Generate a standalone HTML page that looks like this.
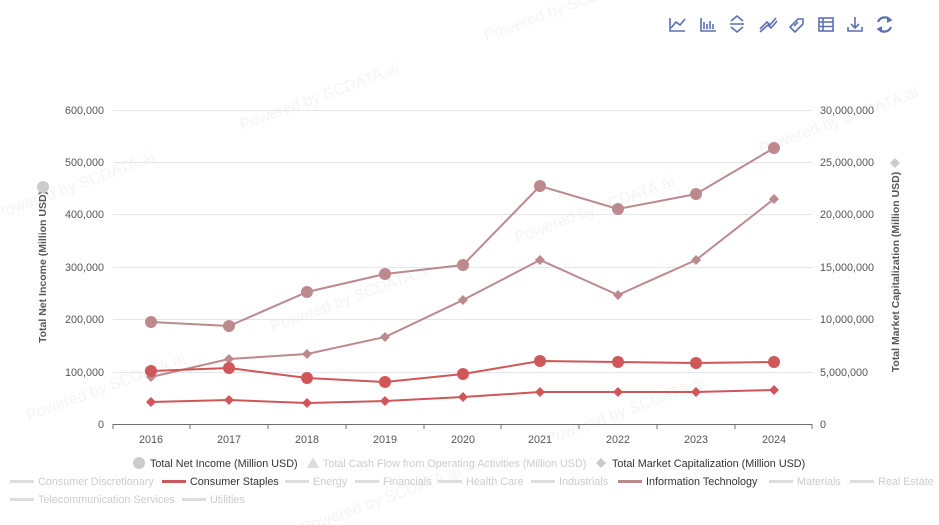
<!DOCTYPE html>
<html><head><meta charset="utf-8"><style>
html,body{margin:0;padding:0;background:#fff;width:939px;height:525px;overflow:hidden;}
svg{display:block;font-family:"Liberation Sans",sans-serif;}
</style></head><body>
<svg width="939" height="525" viewBox="0 0 939 525" xmlns="http://www.w3.org/2000/svg" overflow="hidden">
<g font-size="16" fill="#f6f3f3" transform="rotate(-20 470 260)">
<text x="40" y="60">Powered by SCDATA.ai</text><text x="300" y="60">Powered by SCDATA.ai</text><text x="560" y="60">Powered by SCDATA.ai</text>
<text x="0" y="260">Powered by SCDATA.ai</text><text x="260" y="260">Powered by SCDATA.ai</text><text x="520" y="260">Powered by SCDATA.ai</text><text x="780" y="260">Powered by SCDATA.ai</text>
<text x="220" y="460">Powered by SCDATA.ai</text><text x="480" y="460">Powered by SCDATA.ai</text>
</g>
<g stroke="#5b6fb8" stroke-width="1.6" fill="none">
<path d="M670 18 V31 H685 M671 28 L676 22 L680 25 L685 19"/>
<path d="M701 18 V31 H716 M704 29 V22 M707 29 V24 M710 29 V21 M713 29 V24"/>
<path d="M731 21 L737 16 L743 21 M731 27 L737 32 L743 27 M730 24 H744"/>
<path d="M760 29 L767 22 L770 25 L776 18 M760 32 L768 25 L771 28 L777 21"/>
<path d="M790 27 L798 19 L803 19 L803 24 L795 32 Z M794 26 L798 22"/>
<rect x="819" y="18" width="14" height="13"/><path d="M819 22 H833 M819 26.5 H833 M823 18 V31"/>
<path d="M848 27 V31 H862 V27 M855 17 V28 M851 24 L855 28 L859 24"/>
<path d="M878 22 A7 7 0 0 1 890 20 M891 27 A7 7 0 0 1 879 29" stroke-width="2.2"/>
<path d="M887 17 L891 20 L887 22 M882 32 L878 29 L882 27" fill="#5b6fb8"/>
</g>
<g stroke="#e3e6ee" stroke-width="1">
<line x1="113" y1="110.5" x2="812" y2="110.5"/><line x1="113" y1="162.5" x2="812" y2="162.5"/>
<line x1="113" y1="214.5" x2="812" y2="214.5"/><line x1="113" y1="267.5" x2="812" y2="267.5"/>
<line x1="113" y1="319.5" x2="812" y2="319.5"/><line x1="113" y1="372.5" x2="812" y2="372.5"/>
</g>
<line x1="113" y1="424.5" x2="812" y2="424.5" stroke="#6e7079"/>
<g stroke="#6e7079"><line x1="113" y1="424" x2="113" y2="429"/><line x1="190" y1="424" x2="190" y2="429"/><line x1="268" y1="424" x2="268" y2="429"/><line x1="346" y1="424" x2="346" y2="429"/><line x1="424" y1="424" x2="424" y2="429"/><line x1="501" y1="424" x2="501" y2="429"/><line x1="579" y1="424" x2="579" y2="429"/><line x1="657" y1="424" x2="657" y2="429"/><line x1="735" y1="424" x2="735" y2="429"/><line x1="812" y1="424" x2="812" y2="429"/></g>
<g font-size="10.8" fill="#555" text-anchor="end">
<text x="104" y="114">600,000</text><text x="104" y="166">500,000</text><text x="104" y="218">400,000</text><text x="104" y="271">300,000</text><text x="104" y="323">200,000</text><text x="104" y="376">100,000</text><text x="104" y="428">0</text>
</g>
<g font-size="10.8" fill="#555">
<text x="820" y="114">30,000,000</text><text x="820" y="166">25,000,000</text><text x="820" y="218">20,000,000</text><text x="820" y="271">15,000,000</text><text x="820" y="323">10,000,000</text><text x="820" y="376">5,000,000</text><text x="820" y="428">0</text>
</g>
<g font-size="10.8" fill="#555" text-anchor="middle">
<text x="151" y="443">2016</text><text x="229" y="443">2017</text><text x="307" y="443">2018</text><text x="385" y="443">2019</text><text x="463" y="443">2020</text><text x="540" y="443">2021</text><text x="618" y="443">2022</text><text x="696" y="443">2023</text><text x="774" y="443">2024</text>
</g>
<text transform="translate(46 267) rotate(-90)" font-size="10.5" font-weight="bold" fill="#555" text-anchor="middle">Total Net Income (Million USD)</text>
<circle cx="43" cy="187" r="6" fill="#ccc"/>
<text transform="translate(899 272) rotate(-90)" font-size="10.5" font-weight="bold" fill="#555" text-anchor="middle">Total Market Capitalization (Million USD)</text>
<path d="M895 158 L900 163 L895 168 L890 163 Z" fill="#ccc"/>
<g fill="none" stroke-width="2">
<polyline stroke="#bc8a8d" points="151,322 229,326 307,292 385,274 463,265 540,186 618,209 696,194 774,148"/>
<polyline stroke="#bc8a8d" points="151,377 229,359 307,354 385,337 463,300 540,260 618,295 696,260 774,199"/>
<polyline stroke="#cf5659" points="151,371 229,368 307,378 385,382 463,374 540,361 618,362 696,363 774,362"/>
<polyline stroke="#cf5659" points="151,402 229,400 307,403 385,401 463,397 540,392 618,392 696,392 774,390"/>
</g>
<g fill="#bc8a8d">
<circle cx="151" cy="322" r="6"/><circle cx="229" cy="326" r="6"/><circle cx="307" cy="292" r="6"/><circle cx="385" cy="274" r="6"/><circle cx="463" cy="265" r="6"/><circle cx="540" cy="186" r="6"/><circle cx="618" cy="209" r="6"/><circle cx="696" cy="194" r="6"/><circle cx="774" cy="148" r="6"/>
<path d="M151 372 l5 5 l-5 5 l-5 -5Z"/><path d="M229 354 l5 5 l-5 5 l-5 -5Z"/><path d="M307 349 l5 5 l-5 5 l-5 -5Z"/><path d="M385 332 l5 5 l-5 5 l-5 -5Z"/><path d="M463 295 l5 5 l-5 5 l-5 -5Z"/><path d="M540 255 l5 5 l-5 5 l-5 -5Z"/><path d="M618 290 l5 5 l-5 5 l-5 -5Z"/><path d="M696 255 l5 5 l-5 5 l-5 -5Z"/><path d="M774 194 l5 5 l-5 5 l-5 -5Z"/>
</g>
<g fill="#cf5659">
<circle cx="151" cy="371" r="6"/><circle cx="229" cy="368" r="6"/><circle cx="307" cy="378" r="6"/><circle cx="385" cy="382" r="6"/><circle cx="463" cy="374" r="6"/><circle cx="540" cy="361" r="6"/><circle cx="618" cy="362" r="6"/><circle cx="696" cy="363" r="6"/><circle cx="774" cy="362" r="6"/>
<path d="M151 397 l5 5 l-5 5 l-5 -5Z"/><path d="M229 395 l5 5 l-5 5 l-5 -5Z"/><path d="M307 398 l5 5 l-5 5 l-5 -5Z"/><path d="M385 396 l5 5 l-5 5 l-5 -5Z"/><path d="M463 392 l5 5 l-5 5 l-5 -5Z"/><path d="M540 387 l5 5 l-5 5 l-5 -5Z"/><path d="M618 387 l5 5 l-5 5 l-5 -5Z"/><path d="M696 387 l5 5 l-5 5 l-5 -5Z"/><path d="M774 385 l5 5 l-5 5 l-5 -5Z"/>
</g>
<g font-size="10.8">
<circle cx="139" cy="463" r="6" fill="#ccc"/><text x="150" y="467" fill="#333">Total Net Income (Million USD)</text>
<path d="M313 457 L319 468 L307 468 Z" fill="#ddd"/><text x="323" y="467" fill="#ccc">Total Cash Flow from Operating Activities (Million USD)</text>
<path d="M601 458 L606 463 L601 468 L596 463 Z" fill="#ccc"/><text x="612" y="467" fill="#333">Total Market Capitalization (Million USD)</text>
</g>
<g font-size="10.8" fill="#ccc">
<rect x="10" y="480" width="24" height="3" fill="#ddd"/><text x="38" y="485">Consumer Discretionary</text>
<rect x="162" y="480" width="24" height="3" fill="#cf5659"/><text x="190" y="485" fill="#333">Consumer Staples</text>
<rect x="285" y="480" width="24" height="3" fill="#ddd"/><text x="313" y="485">Energy</text>
<rect x="355" y="480" width="24" height="3" fill="#ddd"/><text x="383" y="485">Financials</text>
<rect x="438" y="480" width="24" height="3" fill="#ddd"/><text x="466" y="485">Health Care</text>
<rect x="531" y="480" width="24" height="3" fill="#ddd"/><text x="559" y="485">Industrials</text>
<rect x="618" y="480" width="24" height="3" fill="#bc8a8d"/><text x="646" y="485" fill="#333">Information Technology</text>
<rect x="769" y="480" width="24" height="3" fill="#ddd"/><text x="797" y="485">Materials</text>
<rect x="850" y="480" width="24" height="3" fill="#ddd"/><text x="878" y="485">Real Estate</text>
<rect x="10" y="498" width="24" height="3" fill="#ddd"/><text x="38" y="503">Telecommunication Services</text>
<rect x="182" y="498" width="24" height="3" fill="#ddd"/><text x="210" y="503">Utilities</text>
</g>
</svg>
</body></html>
